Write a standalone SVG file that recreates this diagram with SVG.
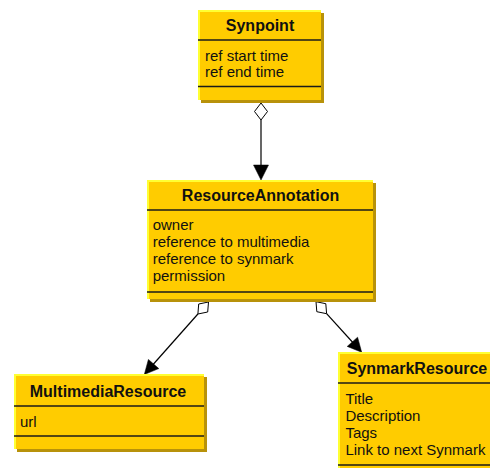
<svg xmlns="http://www.w3.org/2000/svg" width="490" height="468" viewBox="0 0 490 468">
<style>
.shadow{fill:#B8920A}
.box{fill:#FFCC00}
.hl{stroke:#FFFF33;stroke-width:2;fill:none}
.sep{stroke:#1a1a1a;stroke-width:1.3}
.title{font-family:"Liberation Sans",Arial,sans-serif;font-size:16px;font-weight:bold;fill:#111;text-anchor:middle}
.attr{font-family:"Liberation Sans",Arial,sans-serif;font-size:15px;fill:#111}
.line{stroke:#000;stroke-width:1.2;fill:none}
.dia{fill:#fff;stroke:#000;stroke-width:1}
.arr{fill:#000;stroke:#000;stroke-width:0.5}
</style>
<rect width="490" height="468" fill="#fff"/>
<g id="connectors">
  <line class="line" x1="261" y1="120" x2="261" y2="166"/>
  <polygon class="dia" points="261,103 267.5,111.5 261,120 254.5,111.5"/>
  <polygon class="arr" points="261,180 253.5,165 268.5,165"/>
  <line class="line" x1="197.9" y1="314" x2="150" y2="368"/>
  <polygon class="dia" points="208.5,302 207.7,312 197.9,314 198.7,304"/>
  <polygon class="arr" points="144.3,374.5 158.8,368.6 148.4,359.4"/>
  <line class="line" x1="326.6" y1="313.7" x2="356" y2="346"/>
  <polygon class="dia" points="316,301.7 325.8,303.7 326.6,313.7 316.8,311.7"/>
  <polygon class="arr" points="361.7,352.3 347.2,346.4 357.6,337.2"/>
</g>
<g id="Synpoint">
  <rect class="shadow" x="201" y="13" width="123" height="90"/>
  <rect class="box" x="198" y="10" width="123" height="90"/>
  <polyline class="hl" points="199,100 199,11 321,11"/>
  <text class="title" x="260" y="31">Synpoint</text>
  <line class="sep" x1="198" y1="40" x2="321" y2="40"/>
  <text class="attr" x="205" y="61">ref start time</text>
  <text class="attr" x="205" y="77">ref end time</text>
  <line class="sep" x1="198" y1="86.5" x2="321" y2="86.5"/>
</g>
<g id="ResourceAnnotation">
  <rect class="shadow" x="150" y="183" width="226" height="119"/>
  <rect class="box" x="147" y="180" width="226" height="119"/>
  <polyline class="hl" points="148,299 148,181 373,181"/>
  <text class="title" x="260.5" y="201">ResourceAnnotation</text>
  <line class="sep" x1="147" y1="210" x2="373" y2="210"/>
  <text class="attr" x="152.7" y="230">owner</text>
  <text class="attr" x="152.7" y="247">reference to multimedia</text>
  <text class="attr" x="152.7" y="264">reference to synmark</text>
  <text class="attr" x="152.7" y="281">permission</text>
  <line class="sep" x1="147" y1="292" x2="373" y2="292"/>
</g>
<g id="MultimediaResource">
  <rect class="shadow" x="17" y="377" width="190" height="75"/>
  <rect class="box" x="14" y="374" width="190" height="75"/>
  <polyline class="hl" points="15,449 15,375 204,375"/>
  <text class="title" x="108" y="397">MultimediaResource</text>
  <line class="sep" x1="14" y1="406" x2="204" y2="406"/>
  <text class="attr" x="20" y="427">url</text>
  <line class="sep" x1="14" y1="436" x2="204" y2="436"/>
</g>
<g id="SynmarkResource">
  <rect class="shadow" x="341" y="355" width="158" height="130"/>
  <rect class="box" x="338" y="352" width="158" height="130"/>
  <polyline class="hl" points="339,482 339,353 496,353"/>
  <text class="title" x="417" y="374">SynmarkResource</text>
  <line class="sep" x1="338" y1="383" x2="496" y2="383"/>
  <text class="attr" x="345.4" y="404">Title</text>
  <text class="attr" x="345.4" y="421">Description</text>
  <text class="attr" x="345.4" y="438">Tags</text>
  <text class="attr" x="345.4" y="455">Link to next Synmark</text>
  <line class="sep" x1="338" y1="465" x2="496" y2="465"/>
</g>
</svg>
